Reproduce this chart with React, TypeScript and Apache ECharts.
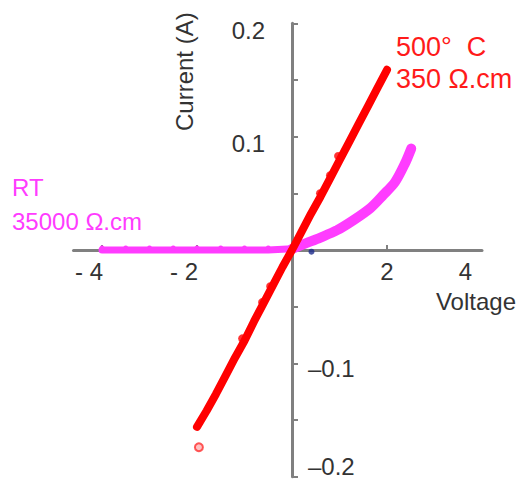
import React, { useEffect, useRef } from 'react';
import * as echarts from 'echarts';

// 500 °C sample: linear I–V
const hotVoltage = [-2.0, -1.8, -1.6, -1.4, -1.2, -1.0, -0.8, -0.6, -0.4, -0.2, 0, 0.2, 0.4, 0.6, 0.8, 1.0, 1.2, 1.4, 1.6, 1.8, 2.0];
const hotCurrent = [-0.156, -0.142, -0.127, -0.111, -0.095, -0.08, -0.063, -0.047, -0.031, -0.015, 0.0, 0.016, 0.032, 0.047, 0.063, 0.079, 0.095, 0.111, 0.127, 0.143, 0.159];
// individual readings that sit slightly off the fitted line
const hotSpotVoltage = [-1.05, -0.63, -0.46, 0.59, 0.8, 0.97];
const hotSpotCurrent = [-0.078, -0.046, -0.032, 0.05, 0.066, 0.083];
const hotStrayVoltage = [-1.96];
const hotStrayCurrent = [-0.174];

// room-temperature sample: rectifying I–V
const rtVoltage = [-4, -3.5, -3, -2.5, -2, -1.5, -1, -0.5, 0, 0.3, 0.6, 0.95, 1.3, 1.65, 1.92, 2.17, 2.38, 2.51];
const rtCurrent = [0, 0, 0, 0, 0, 0, 0, 0, 0.001, 0.006, 0.011, 0.0175, 0.0265, 0.037, 0.0485, 0.06, 0.0765, 0.0895];
const traceVoltage = [0.41];
const traceCurrent = [-0.0015];

// axis ticks and labels
const xTickValues = [-4, -2, 2];
const xLabelValues = [-4, -2, 2, 4];
const yPositiveLabels = [0.1, 0.2];
const yNegativeLabels = [-0.1, -0.2];

const FONT = '"Liberation Sans", Arial, Helvetica, sans-serif';
const TEXT = '#333';
const AXIS = '#808080';
const RED = '#ff0000';
const MAGENTA = '#ff3cff';

// plot area (pixels) and the axis ranges it spans
const GRID_LEFT = 73.5;
const GRID_RIGHT = 482;
const GRID_TOP = 23.3;
const GRID_BOTTOM = 476.7;
const X_MIN = -4.6;
const X_MAX = 4;
const Y_MIN = -0.2;
const Y_MAX = 0.2;
// pixel positions of the zero lines, where the axes cross
const X_ZERO = GRID_LEFT + ((0 - X_MIN) / (X_MAX - X_MIN)) * (GRID_RIGHT - GRID_LEFT);
const Y_ZERO = GRID_TOP + ((Y_MAX - 0) / (Y_MAX - Y_MIN)) * (GRID_BOTTOM - GRID_TOP);

const zip = (xs: number[], ys: number[]) => xs.map((x, i) => [x, ys[i]]);

const labelFont = { fontSize: 24, fontFamily: FONT, color: TEXT };

export default function App() {
  const ref = useRef<HTMLDivElement>(null);

  useEffect(() => {
    if (!ref.current) return;
    const chart = echarts.init(ref.current, null, { renderer: 'svg' });
    const rt = zip(rtVoltage, rtCurrent);

    const option: any = {
      animation: false,
      backgroundColor: '#fff',
      grid: {
        left: GRID_LEFT,
        right: 519 - GRID_RIGHT,
        top: GRID_TOP,
        bottom: 482 - GRID_BOTTOM,
        containLabel: false,
        outerBoundsMode: 'none',
      },
      xAxis: {
        type: 'value',
        min: X_MIN,
        max: X_MAX,
        position: 'bottom',
        offset: -(GRID_BOTTOM - Y_ZERO),
        axisLine: { onZero: false, lineStyle: { color: AXIS, width: 3 } },
        axisTick: { show: true, inside: true, length: 5, customValues: xTickValues, lineStyle: { color: AXIS, width: 2 } },
        axisLabel: {
          customValues: xLabelValues,
          margin: 9,
          ...labelFont,
          formatter: (v: number) => (v < 0 ? `{n|- ${-v}}` : v === X_MAX ? `{e|${v}}` : `{p|${v}}`),
          rich: {
            n: { ...labelFont, padding: [0, 26, 0, 0] },
            p: { ...labelFont },
            e: { ...labelFont, padding: [0, 33, 0, 0] },
          },
        },
        splitLine: { show: false },
        name: 'Voltage',
        nameLocation: 'end',
        nameGap: 34,
        nameMoveOverlap: false,
        nameTextStyle: { ...labelFont, align: 'right', verticalAlign: 'top', padding: [39, 0, 0, 0] },
      },
      yAxis: [
        {
          type: 'value',
          min: Y_MIN,
          max: Y_MAX,
          interval: 0.05,
          position: 'left',
          offset: -(X_ZERO - GRID_LEFT),
          axisLine: { onZero: false, lineStyle: { color: AXIS, width: 3 } },
          axisTick: { show: true, inside: true, length: 6, lineStyle: { color: AXIS, width: 2 } },
          axisLabel: {
            customValues: yPositiveLabels,
            margin: 27,
            ...labelFont,
            formatter: (v: number) => `{p|${v}}`,
            rich: { p: { ...labelFont, padding: [14, 0, 0, 0] } },
          },
          splitLine: { show: false },
          name: 'Current (A)',
          nameLocation: 'end',
          nameGap: 11,
          nameRotate: 90,
          nameMoveOverlap: false,
          nameTextStyle: { ...labelFont, align: 'right', verticalAlign: 'bottom', padding: [0, 0, 96, 0] },
        },
        {
          type: 'value',
          min: Y_MIN,
          max: Y_MAX,
          interval: 0.05,
          position: 'right',
          offset: -(GRID_RIGHT - X_ZERO),
          axisLine: { show: false, onZero: false },
          axisTick: { show: false },
          axisLabel: {
            customValues: yNegativeLabels,
            margin: 16,
            ...labelFont,
            formatter: (v: number) => (v === Y_MIN ? `{b|\u2013${-v}}` : `{a|\u2013${-v}}`),
            rich: {
              a: { ...labelFont, padding: [11, 0, 0, 0] },
              b: { ...labelFont, padding: [0, 0, 20, 0] },
            },
          },
          splitLine: { show: false },
        },
      ],
      series: [
        {
          name: 'trace',
          type: 'scatter',
          data: zip(traceVoltage, traceCurrent),
          symbolSize: 6,
          itemStyle: { color: '#1c2a8c' },
          z: 1,
        },
        {
          name: 'RT reverse',
          type: 'line',
          data: rt.filter((p) => p[0] <= 0),
          lineStyle: { color: MAGENTA, width: 7, cap: 'round' },
          itemStyle: { color: MAGENTA },
          symbol: 'circle',
          symbolSize: 5,
          symbolOffset: [0, -2],
          showSymbol: true,
          z: 3,
        },
        {
          name: 'RT forward',
          type: 'line',
          data: rt.filter((p) => p[0] >= 0),
          smooth: 0.3,
          lineStyle: { color: MAGENTA, width: 10, cap: 'round' },
          symbol: 'none',
          z: 3,
        },
        {
          name: '500 C',
          type: 'line',
          data: zip(hotVoltage, hotCurrent),
          lineStyle: { color: RED, width: 8, cap: 'round' },
          symbol: 'none',
          z: 4,
        },
        {
          name: '500 C readings',
          type: 'scatter',
          data: zip(hotSpotVoltage, hotSpotCurrent),
          symbolSize: 8,
          itemStyle: { color: RED },
          z: 4,
        },
        {
          name: '500 C stray',
          type: 'scatter',
          data: zip(hotStrayVoltage, hotStrayCurrent),
          symbolSize: 8,
          itemStyle: { color: '#ffb3b3', borderColor: '#ff3030', borderWidth: 2 },
          z: 4,
        },
      ],
      graphic: [
        {
          type: 'text',
          x: 396,
          y: 62.7,
          style: {
            text: '500°  C\n350 Ω.cm',
            fontSize: 27,
            fontFamily: FONT,
            fill: '#ff1a1a',
            lineHeight: 32,
            align: 'left',
            verticalAlign: 'middle',
          },
        },
        {
          type: 'text',
          x: 12,
          y: 204.5,
          style: {
            text: 'RT\n35000 Ω.cm',
            fontSize: 24,
            fontFamily: FONT,
            fill: MAGENTA,
            lineHeight: 34,
            align: 'left',
            verticalAlign: 'middle',
          },
        },
      ],
    };

    chart.setOption(option);
    return () => chart.dispose();
  }, []);

  return (
    <div
      ref={ref}
      style={{ position: 'absolute', left: 0, top: 0, width: 519, height: 482, background: '#fff' }}
    />
  );
}
